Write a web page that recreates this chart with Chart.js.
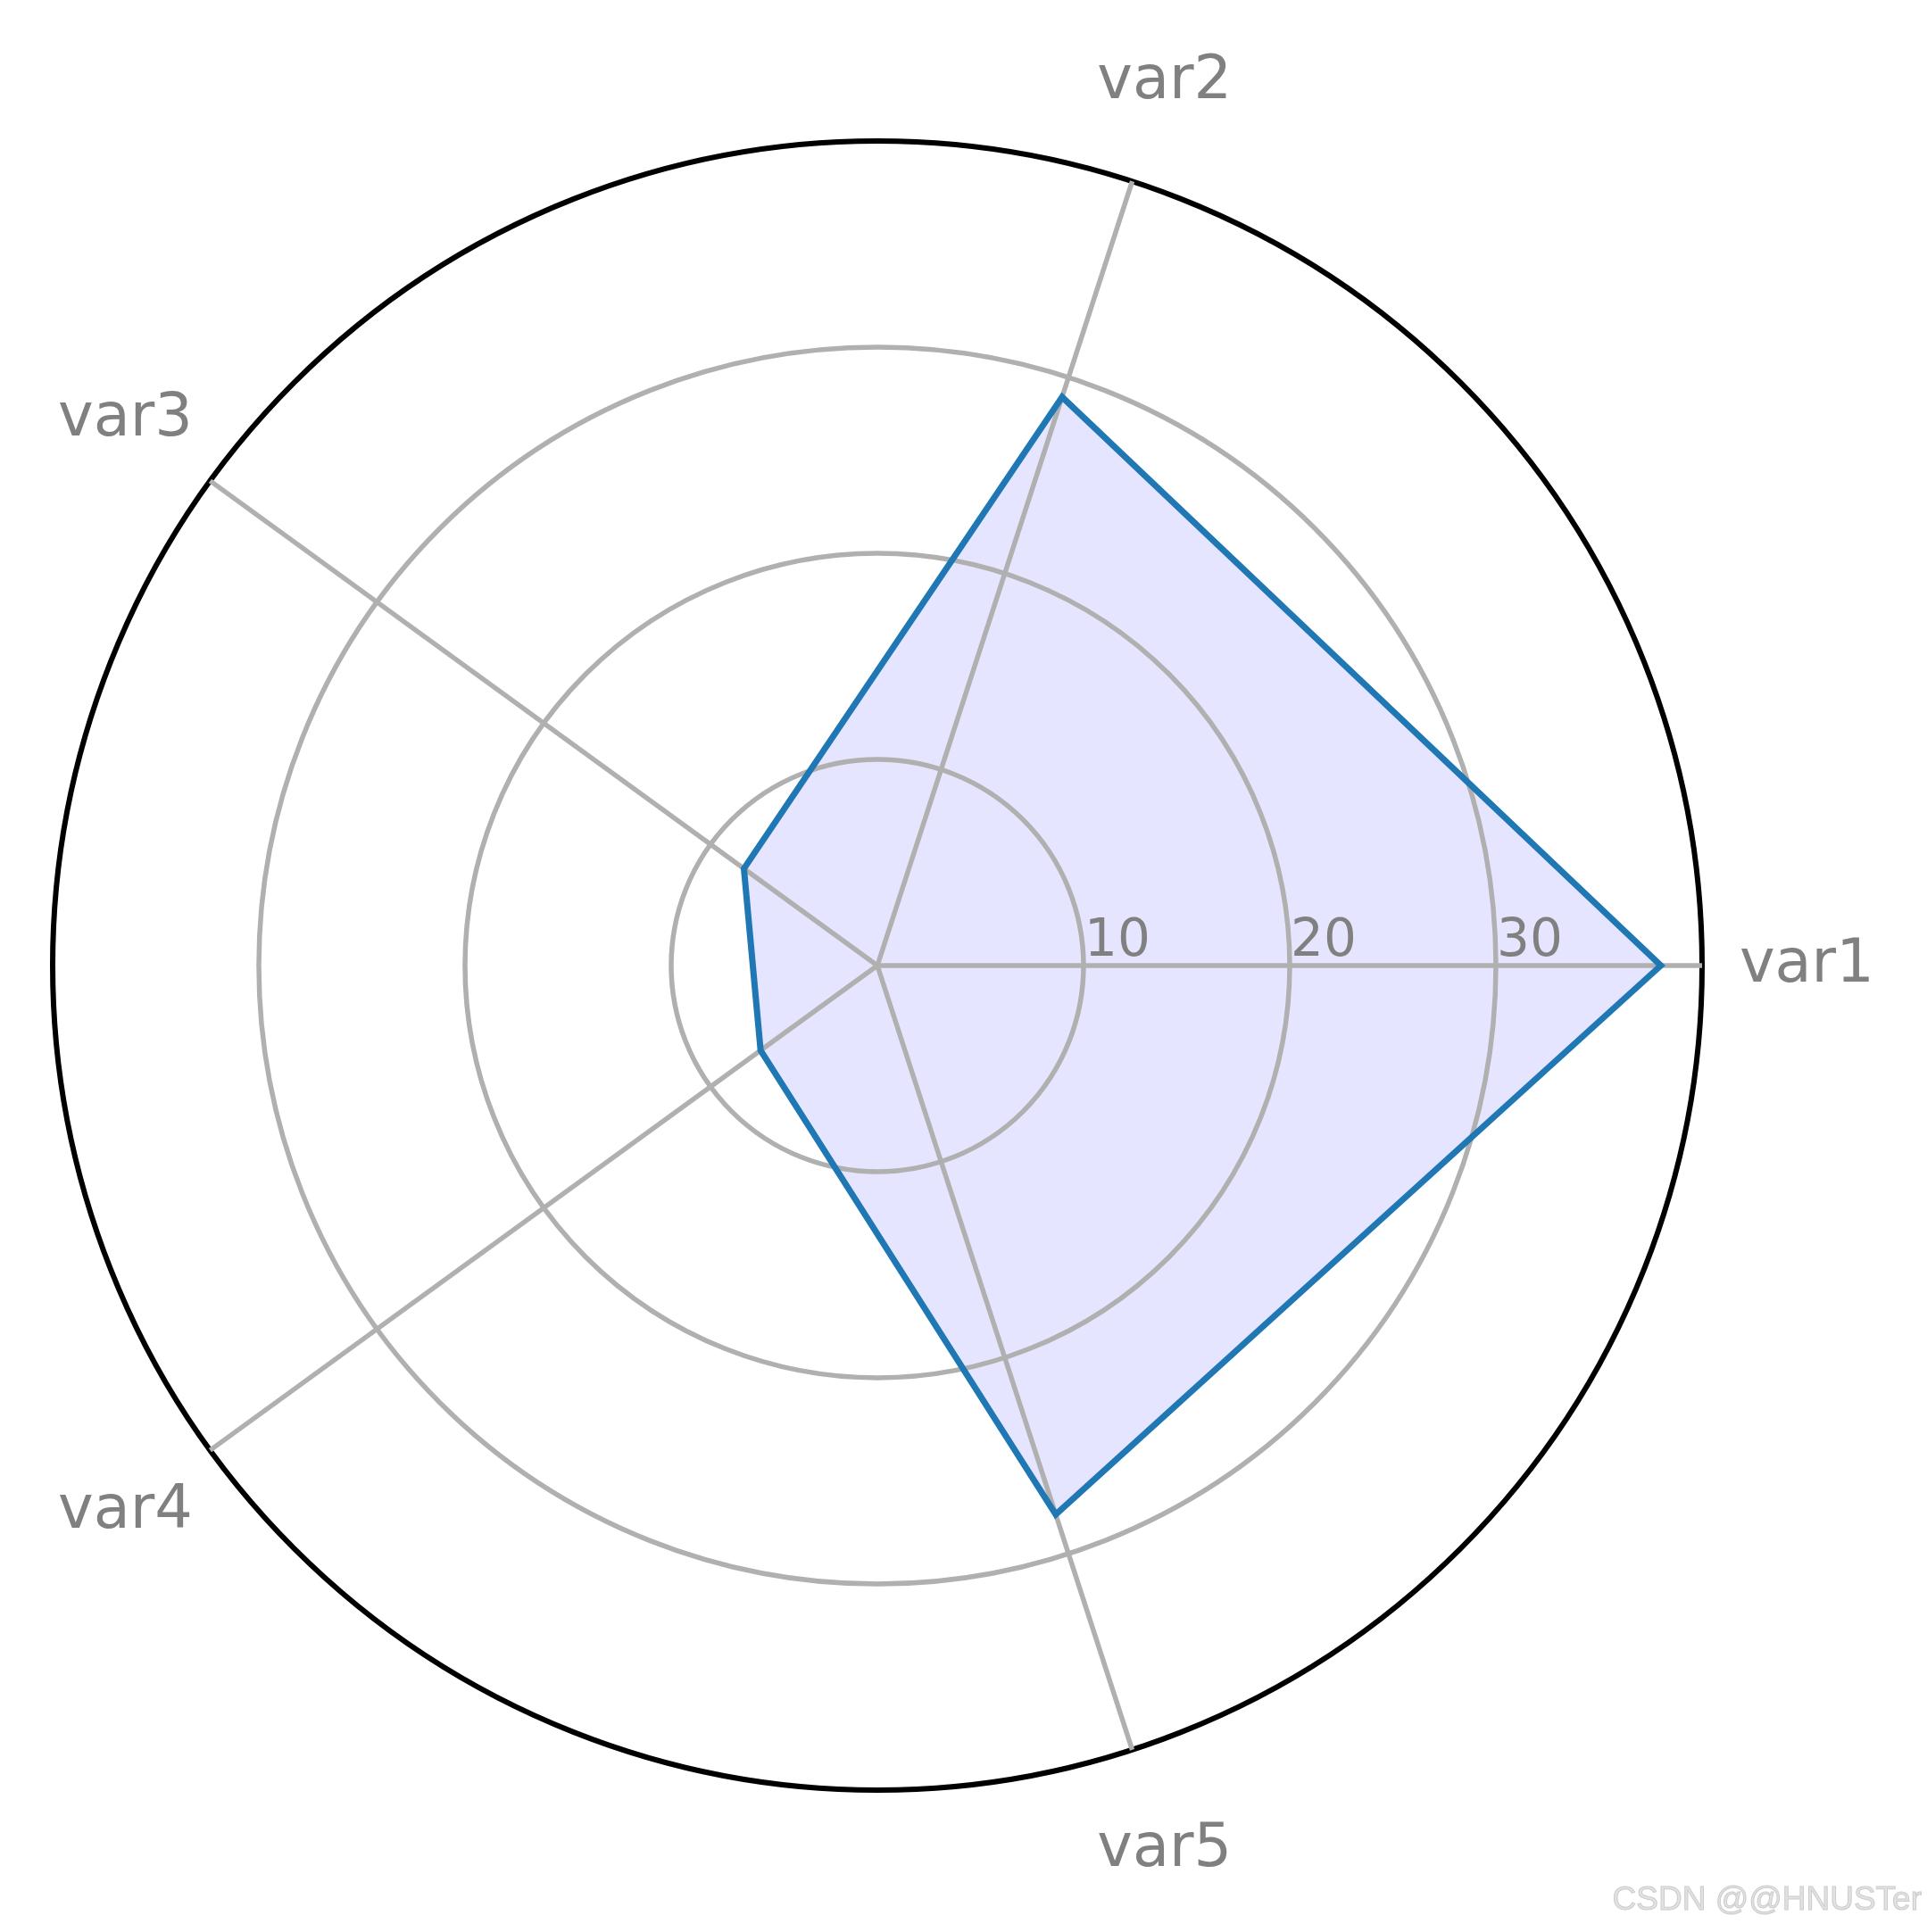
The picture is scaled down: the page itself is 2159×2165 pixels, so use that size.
<!DOCTYPE html>
<html>
<head>
<meta charset="utf-8">
<title>Radar chart</title>
<script src="https://cdn.jsdelivr.net/npm/chart.js@4.4.0/dist/chart.umd.min.js"></script>
<style>
  html, body { margin: 0; padding: 0; background: #ffffff; }
  #wrap { position: relative; width: 2159px; height: 2165px; }
</style>
</head>
<body>
<div id="wrap"><canvas id="radar-chart"></canvas></div>
<script>
// data
const categories = ['var1', 'var2', 'var3', 'var4', 'var5'];
const groupA = [38, 29, 8, 7, 28];
const tickValues = [10, 20, 30];
const tickLabels = ['10', '20', '30'];
const rMax = 40;
const watermark = 'CSDN @@HNUSTer';

// matplotlib goes counter-clockwise, Chart.js clockwise -> keep first, reverse the rest
const order = [0].concat(categories.slice(1).map((_, i) => categories.length - 1 - i));
const labels = order.map(i => categories[i]);
const values = order.map(i => groupA[i]);

const textColor = '#808080';
const gridColor = '#b0b0b0';

// labels drawn by hand so they stay horizontal like the original
const radarText = {
  id: 'radarText',
  afterDraw(chart) {
    const scale = chart.scales.r;
    const ctx = chart.ctx;
    ctx.save();

    // radial tick labels, sitting on the var1 axis
    ctx.font = '58px "DejaVu Sans"';
    ctx.fillStyle = textColor;
    ctx.textAlign = 'left';
    ctx.textBaseline = 'alphabetic';
    tickValues.forEach((v, i) => {
      const p = scale.getPointPositionForValue(0, v);
      ctx.fillText(tickLabels[i], p.x + 1, p.y - 11);
    });

    // category labels around the circle
    ctx.font = '67px "DejaVu Sans"';
    ctx.textAlign = 'center';
    ctx.textBaseline = 'middle';
    chart.data.labels.forEach((lab, i) => {
      const p = scale.getPointPosition(i, scale.drawingArea * 1.127);
      ctx.fillText(lab, p.x, p.y + 1);
    });

    // watermark
    ctx.font = '37px "Liberation Sans"';
    ctx.textAlign = 'right';
    ctx.textBaseline = 'alphabetic';
    ctx.fillStyle = '#e2e2e2';
    ctx.fillText(watermark, chart.width - 6, chart.height - 25);
    ctx.lineWidth = 1;
    ctx.strokeStyle = '#cccccc';
    ctx.strokeText(watermark, chart.width - 6, chart.height - 25);

    ctx.restore();
  }
};

const chart = new Chart(document.getElementById('radar-chart').getContext('2d'), {
  type: 'radar',
  data: {
    labels: labels,
    datasets: [
      {
        label: 'group A',
        data: values,
        borderColor: '#1f77b4',
        backgroundColor: 'rgba(0, 0, 255, 0.1)',
        borderWidth: 7,
        fill: true,
        pointRadius: 0,
        pointHoverRadius: 0,
        tension: 0
      }
    ]
  },
  options: {
    responsive: true,
    maintainAspectRatio: false,
    animation: false,
    devicePixelRatio: 1,
    layout: {
      padding: { left: 59, right: 252, top: 158, bottom: 159 }
    },
    plugins: {
      legend: { display: false },
      tooltip: { enabled: false },
      filler: { drawTime: 'beforeDraw' } // fill under the grid, like matplotlib
    },
    scales: {
      r: {
        min: 0,
        max: rMax,
        startAngle: 90,
        beginAtZero: true,
        ticks: { display: false, stepSize: 10 },
        pointLabels: { display: false },
        grid: {
          circular: true,
          color: ctx => ctx.tick && ctx.tick.value === rMax ? '#000000' : gridColor,
          lineWidth: ctx => ctx.tick && ctx.tick.value === rMax ? 6 : 5.5
        },
        angleLines: {
          color: gridColor,
          lineWidth: 5.5
        }
      }
    }
  },
  plugins: [radarText]
});
</script>
</body>
</html>
